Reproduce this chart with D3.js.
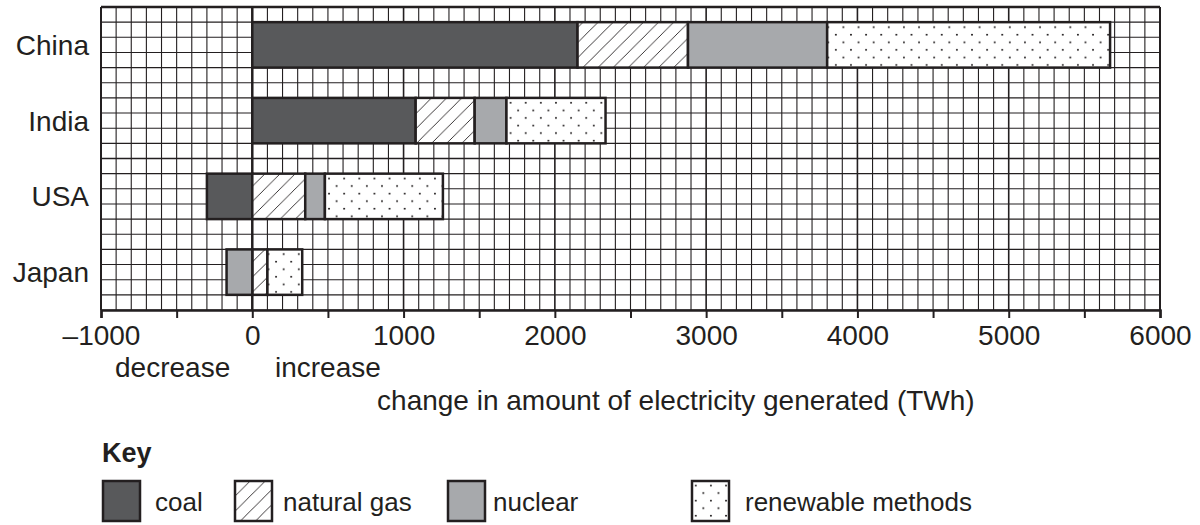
<!DOCTYPE html>
<html>
<head>
<meta charset="utf-8">
<script src="https://cdn.jsdelivr.net/npm/d3@7"></script>
<style>
  body { margin: 0; background: #fff; }
  svg text { font-family: "Liberation Sans", Arial, Helvetica, sans-serif; fill: #231f20; }
</style>
</head>
<body>
<div class="canvas"></div>
<script>
// data (TWh change)
const categories = ['China', 'India', 'USA', 'Japan'];
const sources = ['coal', 'natural gas', 'nuclear', 'renewable methods'];
const coal = [2150, 1080, -300, 0];
const naturalGas = [730, 390, 350, 100];
const nuclear = [920, 210, 130, -170];
const renewable = [1870, 655, 780, 230];
const tickValues = [-1000, 0, 1000, 2000, 3000, 4000, 5000, 6000];

const ink = '#231f20';

const svg = d3.select('.canvas')
    .append('svg')
    .attr('width', 1200)
    .attr('height', 525);

const x = d3.scaleLinear()
    .domain([-1000, 6000])
    .range([101, 1160]);

// 20 grid rows down the plot
const rowCount = 20;
const row = d3.scaleLinear()
    .domain([0, rowCount])
    .range([7, 310]);

const y = d3.scaleBand()
    .domain(categories)
    .range([row(0), row(rowCount)])
    .paddingInner(0.4)
    .paddingOuter(0.2);

// patterns
const defs = svg.append('defs');
const cell = x(100) - x(0);
defs.append('pattern')
    .attr('id', 'hatch')
    .attr('patternUnits', 'userSpaceOnUse')
    .attr('width', cell)
    .attr('height', cell)
    .call(p => {
        p.append('rect').attr('width', cell).attr('height', cell).attr('fill', '#fff');
        p.append('path')
            .attr('d', `M0,${cell} L${cell},0 M${-cell/2},${cell/2} L${cell/2},${-cell/2} M${cell/2},${cell*1.5} L${cell*1.5},${cell/2}`)
            .attr('stroke', ink)
            .attr('stroke-width', 0.9);
    });

defs.append('pattern')
    .attr('id', 'dots')
    .attr('patternUnits', 'userSpaceOnUse')
    .attr('width', cell)
    .attr('height', cell)
    .call(p => {
        p.append('rect').attr('width', cell).attr('height', cell).attr('fill', '#fff');
        [[cell * 0.25, cell * 0.3], [cell * 0.75, cell * 0.8]].forEach(([cx, cy]) => {
            p.append('circle').attr('cx', cx).attr('cy', cy).attr('r', 1).attr('fill', ink);
        });
    });

const fills = {
    'coal': '#58595b',
    'natural gas': 'url(#hatch)',
    'nuclear': '#a7a9ac',
    'renewable methods': 'url(#dots)'
};

// grid
const grid = svg.append('g');
grid.selectAll('line.v')
    .data(d3.range(-1000, 6001, 100))
    .enter()
    .append('line')
    .attr('x1', d => x(d))
    .attr('x2', d => x(d))
    .attr('y1', row(0))
    .attr('y2', row(rowCount))
    .attr('stroke', ink)
    .attr('stroke-width', d => d === 0 ? 2.5 : (d % 1000 === 0 ? 1.6 : 1.1));

grid.selectAll('line.h')
    .data(d3.range(0, rowCount + 1))
    .enter()
    .append('line')
    .attr('x1', x(-1000))
    .attr('x2', x(6000))
    .attr('y1', d => row(d))
    .attr('y2', d => row(d))
    .attr('stroke', ink)
    .attr('stroke-width', d => d === 0 ? 2.5 : (d === 10 ? 1.6 : 1.1));

grid.append('line')
    .attr('x1', x(6000)).attr('x2', x(6000))
    .attr('y1', row(0)).attr('y2', row(rowCount))
    .attr('stroke', ink).attr('stroke-width', 2);
grid.append('line')
    .attr('x1', x(-1000)).attr('x2', x(-1000))
    .attr('y1', row(0)).attr('y2', row(rowCount))
    .attr('stroke', ink).attr('stroke-width', 2);

// stacked bars
const table = categories.map((c, i) => ({
    country: c,
    'coal': coal[i],
    'natural gas': naturalGas[i],
    'nuclear': nuclear[i],
    'renewable methods': renewable[i]
}));

const series = d3.stack()
    .keys(sources)
    .offset(d3.stackOffsetDiverging)(table);

svg.append('g')
    .selectAll('g')
    .data(series)
    .enter()
    .append('g')
    .attr('fill', d => fills[d.key])
    .selectAll('rect')
    .data(d => d.filter(s => s[1] !== s[0]))
    .enter()
    .append('rect')
    .attr('x', d => x(Math.min(d[0], d[1])))
    .attr('width', d => Math.abs(x(d[1]) - x(d[0])))
    .attr('y', d => y(d.data.country))
    .attr('height', y.bandwidth())
    .attr('stroke', ink)
    .attr('stroke-width', 2.5);

// category labels
svg.append('g')
    .selectAll('text')
    .data(categories)
    .enter()
    .append('text')
    .attr('x', 89)
    .attr('y', d => y(d) + y.bandwidth() / 2)
    .attr('dy', '0.36em')
    .attr('text-anchor', 'end')
    .attr('font-size', 28)
    .text(d => d);

// x axis
const xAxisGroup = svg.append('g')
    .attr('transform', `translate(0, ${row(rowCount)})`);

const xAxis = d3.axisBottom(x)
    .tickValues(d3.range(-1000, 6001, 500))
    .tickSize(8)
    .tickPadding(7)
    .tickFormat(d => tickValues.includes(d) ? (d < 0 ? '\u2013' + Math.abs(d) : String(d)) : '');

xAxisGroup.call(xAxis);
xAxisGroup.select('.domain')
    .attr('stroke', ink)
    .attr('stroke-width', 2.5);
xAxisGroup.selectAll('.tick line')
    .attr('stroke', ink)
    .attr('stroke-width', 2);
xAxisGroup.selectAll('text')
    .attr('font-size', 28)
    .attr('font-family', '"Liberation Sans", Arial, sans-serif')
    .attr('fill', ink);

svg.append('text')
    .attr('x', x(-500) - 4)
    .attr('y', 377)
    .attr('text-anchor', 'middle')
    .attr('font-size', 28)
    .text('decrease');

svg.append('text')
    .attr('x', x(500))
    .attr('y', 377)
    .attr('text-anchor', 'middle')
    .attr('font-size', 28)
    .text('increase');

svg.append('text')
    .attr('x', x(2800))
    .attr('y', 410)
    .attr('text-anchor', 'middle')
    .attr('font-size', 28)
    .text('change in amount of electricity generated (TWh)');

// key
svg.append('text')
    .attr('x', 102)
    .attr('y', 462)
    .attr('font-size', 27)
    .attr('font-weight', 'bold')
    .text('Key');

const keyX = [103, 235, 448, 692];
const keyLabelGap = [52, 48, 45, 53];
const key = svg.append('g')
    .selectAll('g')
    .data(sources)
    .enter()
    .append('g')
    .attr('transform', (d, i) => `translate(${keyX[i]}, 481)`);

key.append('rect')
    .attr('width', 37)
    .attr('height', 40)
    .attr('fill', d => fills[d])
    .attr('stroke', ink)
    .attr('stroke-width', 2.5);

key.append('text')
    .attr('x', (d, i) => keyLabelGap[i])
    .attr('y', 30)
    .attr('font-size', 26)
    .text(d => d);
</script>
</body>
</html>
